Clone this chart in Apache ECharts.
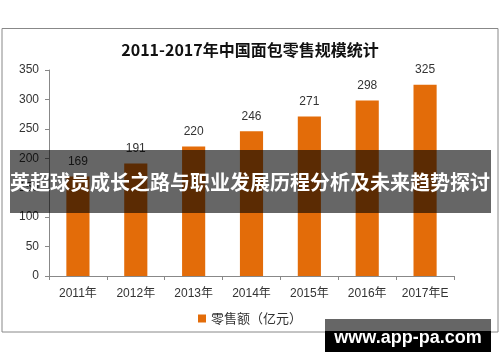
<!DOCTYPE html>
<html>
<head>
<meta charset="utf-8">
<script src="https://cdn.jsdelivr.net/npm/echarts@6/dist/echarts.min.js"></script>
<style>html,body{margin:0;padding:0;background:#fff;}#c{width:500px;height:362px;}</style>
</head>
<body>
<div id="c"></div>
<script>
const titleText = '2011-2017年中国面包零售规模统计';
const categories = ['2011年','2012年','2013年','2014年','2015年','2016年','2017年E'];
const seriesName = '零售额（亿元）';
const values = [169, 191, 220, 246, 271, 298, 325];
const yTicks = {min: 0, max: 350, interval: 50};
const bannerText = '英超球员成长之路与职业发展历程分析及未来趋势探讨';
const badgeText = 'www.app-pa.com';

const chart = echarts.init(document.getElementById('c'), null, {renderer: 'canvas'});
chart.setOption({
  animation: false,
  backgroundColor: '#fff',
  title: {
    text: titleText,
    left: 'center',
    top: 37,
    textStyle: {fontFamily: 'Noto Sans CJK SC', fontWeight: 'bold', fontSize: 16, color: '#111'}
  },
  grid: {left: 49, right: 46, top: 70, bottom: 86},
  legend: {
    data: [seriesName],
    top: 307,
    left: 'center',
    icon: 'rect',
    itemWidth: 8,
    itemHeight: 8,
    itemGap: 4,
    textStyle: {fontFamily: 'Noto Sans CJK SC', fontSize: 13, color: '#333'}
  },
  xAxis: {
    type: 'category',
    data: categories,
    boundaryGap: true,
    axisLine: {lineStyle: {color: '#888', width: 1}},
    axisTick: {show: true, length: 4, lineStyle: {color: '#888'}},
    axisLabel: {margin: 12, fontFamily: 'Liberation Sans, Noto Sans CJK SC', fontSize: 12, color: '#333', interval: 0}
  },
  yAxis: {
    type: 'value',
    min: yTicks.min,
    max: yTicks.max,
    interval: yTicks.interval,
    splitLine: {show: false},
    axisLine: {show: true, lineStyle: {color: '#888', width: 1}},
    axisTick: {show: true, length: 4, lineStyle: {color: '#888'}},
    axisLabel: {margin: 10, fontFamily: 'Liberation Sans', fontSize: 12, color: '#333'}
  },
  series: [{
    name: seriesName,
    type: 'bar',
    data: values,
    barWidth: '40%',
    itemStyle: {color: '#E36C09'},
    label: {show: true, position: 'top', distance: 9, fontFamily: 'Liberation Sans', fontSize: 12, color: '#333'}
  }],
  graphic: [
    {type: 'rect', z: 1, silent: true, shape: {x: 2, y: 28.5, width: 496, height: 303.5},
     style: {fill: 'none', stroke: '#888', lineWidth: 1}},
    {type: 'rect', z: 100, silent: true, shape: {x: 10, y: 150, width: 481, height: 63},
     style: {fill: 'rgba(0,0,0,0.6)'}},
    {type: 'text', z: 101, silent: true, x: 250, y: 182,
     style: {text: bannerText, fill: '#fff', font: 'bold 20px "Noto Sans CJK SC"', textAlign: 'center', textVerticalAlign: 'middle'}},
    {type: 'rect', z: 100, silent: true, shape: {x: 325, y: 319, width: 166, height: 12},
     style: {fill: 'rgba(0,0,0,0.6)'}},
    {type: 'rect', z: 100, silent: true, shape: {x: 325, y: 331, width: 166, height: 21},
     style: {fill: '#000'}},
    {type: 'text', z: 101, silent: true, x: 408, y: 338,
     style: {text: badgeText, fill: '#fff', font: 'bold 18px "Liberation Sans"', textAlign: 'center', textVerticalAlign: 'middle'}}
  ]
});
</script>
</body>
</html>
